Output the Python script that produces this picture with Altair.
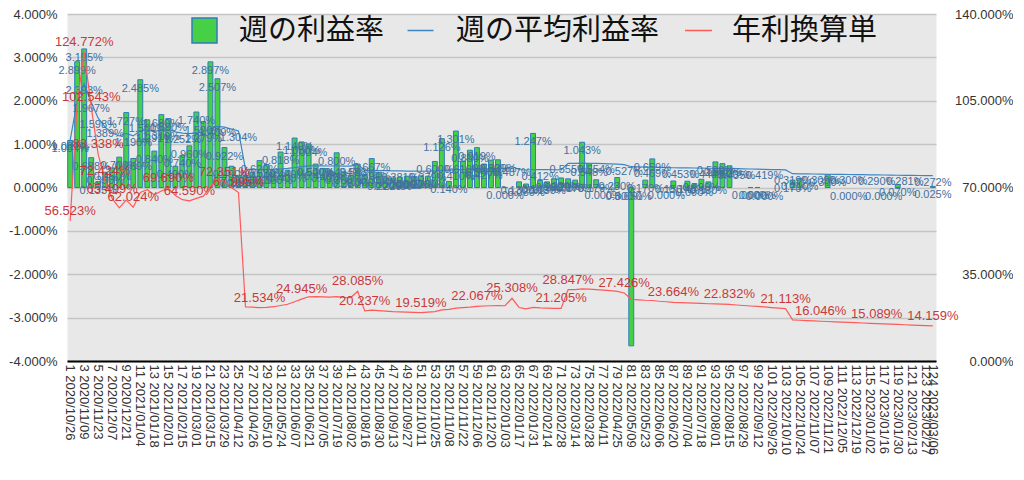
import datetime as dt
import altair as alt
import pandas as pd

# ---------------- data ----------------
weeks = list(range(1, 125))
start = dt.date(2020, 10, 26)
week_labels = [f"{w} {(start + dt.timedelta(weeks=w - 1)).strftime('%Y/%m/%d')}" for w in weeks]
shown_labels = [week_labels[i] for i in range(0, 124, 2)] + [week_labels[123]]

# weekly profit rate (%), None = no bar
weekly_rate = [
    1.084, 2.899, 3.195, 0.688, 0.135, 0.350, 0.450, 0.700, 1.727, 0.669,
    2.485, 1.560, 0.840, 1.680, 1.590, 0.490, 0.740, 0.960, 1.740, 1.520,
    2.897, 2.507, 0.922, 0.490, 0.280, 0.280, 0.350, 0.620, 0.530, 0.360,
    0.818, 0.400, 1.140, 1.050, 1.004, 0.540, 0.440, 0.400, 0.800, 0.360,
    0.280, 0.538, 0.300, 0.667, 0.350, 0.220, 0.220, 0.240, 0.260, 0.250,
    0.270, 0.260, 0.600, 1.126, 0.140, 1.301, 0.610, 0.860, 0.919, 0.540,
    0.630, 0.639, 0.0004, None, 0.130, 0.080, 1.247, 0.160, 0.130, 0.200,
    0.220, 0.200, 0.170, 1.043, 0.548, 0.179, 0.0004, None, 0.230, 0.0,
    -3.650, None, 0.170, 0.659, None, 0.0004, 0.150, None, 0.145, 0.090,
    0.190, 0.130, 0.590, 0.550, 0.500, None, None, 0.0004, 0.0004, 0.0,
    None, None, None, 0.170, 0.210, None, None, None, 0.300, None,
    None, 0.0, None, None, None, None, 0.0, None, 0.070, None,
    None, None, None, 0.025,
]

# weekly average profit rate (%)
average_rate = [
    1.087, 1.992, 2.393, 1.967, 1.598, 1.389, 1.257, 1.188, 1.248, 1.190,
    1.308, 1.329, 1.291, 1.319, 1.340, 1.284, 1.252, 1.242, 1.262, 1.279,
    1.353, 1.409, 1.391, 1.347, 1.304, 0.419, 0.417, 0.414, 0.415, 0.421,
    0.431, 0.440, 0.460, 0.480, 0.498, 0.500, 0.498, 0.496, 0.500, 0.494,
    0.492, 0.540, 0.389, 0.394, 0.390, 0.387, 0.383, 0.381, 0.379, 0.377,
    0.375, 0.379, 0.383, 0.396, 0.400, 0.410, 0.413, 0.417, 0.424, 0.427,
    0.429, 0.431, 0.429, 0.487, 0.415, 0.404, 0.415, 0.412, 0.410, 0.409,
    0.408, 0.555, 0.554, 0.560, 0.558, 0.554, 0.550, 0.546, 0.540, 0.527,
    0.479, 0.475, 0.471, 0.469, 0.463, 0.460, 0.455, 0.453, 0.451, 0.449,
    0.447, 0.444, 0.443, 0.441, 0.439, 0.435, 0.431, 0.427, 0.423, 0.419,
    0.414, 0.411, 0.406, 0.319, 0.316, 0.313, 0.311, 0.309, 0.306, 0.304,
    0.302, 0.300, 0.297, 0.295, 0.293, 0.290, 0.288, 0.286, 0.283, 0.281,
    0.279, 0.277, 0.274, 0.272,
]

# annualized simple rate (%)
annualized = [
    56.523, 103.6, 124.772, 102.543, 83.338, 72.424, 65.499, 61.8, 64.9, 62.024,
    68.0, 69.1, 67.1, 68.6, 69.690, 66.8, 65.1, 64.590, 65.6, 66.5,
    70.3, 73.2, 72.351, 70.0, 67.995, 21.8, 21.7, 21.534, 21.6, 21.9,
    22.4, 22.9, 23.9, 24.945, 25.9, 26.0, 25.9, 25.8, 26.0, 25.7,
    25.6, 28.085, 20.237, 20.5, 20.3, 20.1, 19.9, 19.8, 19.7, 19.6,
    19.519, 19.7, 19.9, 20.6, 20.8, 21.3, 21.5, 21.7, 22.067, 22.2,
    22.3, 22.4, 22.3, 25.308, 21.6, 21.0, 21.6, 21.4, 21.3, 21.25,
    21.205, 28.847, 28.8, 29.1, 29.0, 28.8, 28.6, 28.4, 28.1, 27.426,
    24.9, 24.7, 24.5, 24.4, 24.1, 23.9, 23.664, 23.55, 23.45, 23.35,
    23.25, 23.1, 23.05, 22.95, 22.832, 22.6, 22.4, 22.2, 22.0, 21.8,
    21.55, 21.35, 21.113, 16.6, 16.45, 16.3, 16.15, 16.046, 15.93, 15.81,
    15.69, 15.57, 15.45, 15.33, 15.21, 15.089, 14.97, 14.86, 14.74, 14.63,
    14.51, 14.39, 14.27, 14.159,
]

blue_label_weeks = [1, 3, 4, 5, 6, 10, 13, 14, 17, 20, 22, 25, 28, 32, 36, 40, 44, 48,
                    52, 56, 60, 64, 68, 72, 76, 80, 84, 88, 92, 96, 100, 104, 108,
                    112, 116, 120, 124]
red_label_weeks = [1, 3, 4, 5, 6, 7, 10, 15, 18, 23, 25, 28, 34, 42, 43, 51, 59, 64,
                   71, 72, 80, 87, 95, 103, 108, 116, 124]

series_names = ["週の利益率", "週の平均利益率", "年利換算単"]

# ---------------- table ----------------
def pct(v):
    return f"{v:.3f}%"

df = pd.DataFrame({
    "week": weeks,
    "label": week_labels,
    "bar": weekly_rate,
    "blue": average_rate,
    "red": annualized,
})
df["bar_ly"] = [None if v is None else max(v, 0.0) for v in weekly_rate]
df["bar_txt"] = [None if v is None else pct(v) for v in weekly_rate]
df["blue_txt"] = [pct(v) for v in average_rate]
df["red_txt"] = [pct(v) for v in annualized]
df["show_blue"] = [w in blue_label_weeks for w in weeks]
df["show_red"] = [w in red_label_weeks for w in weeks]
df["s1"] = series_names[0]
df["s2"] = series_names[1]
df["s3"] = series_names[2]

FONT = "Liberation Sans"
CJK = "Noto Sans CJK JP"
GREEN = "#46d046"
BAR_STROKE = "#2f7bbf"
BLUE = "#3d86c6"
RED = "#ff5a5a"
BLUE_TXT = "#41709e"
RED_TXT = "#c8383a"

pct_expr = "(datum.value < 0 ? '-' : '') + format(abs(datum.value), '.3f') + '%'"

X = alt.X(
    "label:N",
    sort=week_labels,
    scale=alt.Scale(paddingInner=0.3, paddingOuter=0.1),
    axis=alt.Axis(
        values=shown_labels, labelAngle=90, labelOverlap=False, labelFont=FONT,
        labelFontSize=13, labelColor="#333333", labelPadding=3, ticks=False,
        domainColor="#000000", domainWidth=2, grid=False, title=None,
    ),
)

left_scale = alt.Scale(domain=[-4, 4], nice=False)
left_axis = alt.Axis(
    values=[-4, -3, -2, -1, 0, 1, 2, 3, 4], labelExpr=pct_expr, grid=True,
    gridColor="#c4c4c4", gridWidth=1.5, domain=False, ticks=False,
    labelPadding=10, labelFont=FONT, labelFontSize=13, labelColor="#333333", title=None,
)
right_scale = alt.Scale(domain=[0, 140], nice=False)
right_axis = alt.Axis(
    orient="right", values=[0, 35, 70, 105, 140], labelExpr=pct_expr, grid=False,
    domain=False, ticks=False, labelAlign="right", labelPadding=77, labelFont=FONT,
    labelFontSize=13, labelColor="#333333", title=None,
)

base = alt.Chart(df)

bars = base.transform_filter("isValid(datum.bar) && datum.bar != 0").mark_bar(
    stroke=BAR_STROKE, strokeWidth=1
).encode(
    x=X,
    y=alt.Y("bar:Q", scale=left_scale, axis=left_axis),
    fill=alt.Fill(
        "s1:N",
        scale=alt.Scale(domain=[series_names[0]], range=[GREEN]),
        legend=alt.Legend(
            orient="none", legendX=123, legendY=2, title=None, symbolType="square",
            symbolSize=625, symbolStrokeColor=BAR_STROKE, symbolStrokeWidth=1.5,
            labelFont=CJK, labelFontSize=29, labelColor="#111111", labelOffset=20,
            padding=0, labelLimit=400,
        ),
    ),
)

blue_line = base.mark_line(strokeWidth=1.2).encode(
    x=X,
    y=alt.Y("blue:Q", scale=left_scale, axis=left_axis),
    stroke=alt.Stroke(
        "s2:N",
        scale=alt.Scale(domain=[series_names[1]], range=[BLUE]),
        legend=alt.Legend(
            orient="none", legendX=339, legendY=2, title=None, symbolType="stroke",
            symbolSize=676, symbolStrokeWidth=1.5, labelFont=CJK, labelFontSize=29,
            labelColor="#111111", labelOffset=21, padding=0, labelLimit=400,
        ),
    ),
)

bar_labels = base.transform_filter("isValid(datum.bar)").mark_text(
    font=FONT, fontSize=11, color=BLUE_TXT, dy=9
).encode(
    x=X,
    y=alt.Y("bar_ly:Q", scale=left_scale, axis=left_axis),
    text="bar_txt:N",
)

blue_labels = base.transform_filter("datum.show_blue").mark_text(
    font=FONT, fontSize=11, color=BLUE_TXT, dy=7
).encode(
    x=X,
    y=alt.Y("blue:Q", scale=left_scale, axis=left_axis),
    text="blue_txt:N",
)

red_line = base.mark_line(strokeWidth=1.2).encode(
    x=X,
    y=alt.Y("red:Q", scale=right_scale, axis=right_axis),
    color=alt.Color(
        "s3:N",
        scale=alt.Scale(domain=[series_names[2]], range=[RED]),
        legend=alt.Legend(
            orient="none", legendX=617, legendY=2, title=None, symbolType="stroke",
            symbolSize=729, symbolStrokeWidth=1.5, labelFont=CJK, labelFontSize=29,
            labelColor="#111111", labelOffset=19, padding=0, labelLimit=400,
        ),
    ),
)

red_labels = base.transform_filter("datum.show_red").mark_text(
    font=FONT, fontSize=13, color=RED_TXT, dy=-10
).encode(
    x=X,
    y=alt.Y("red:Q", scale=right_scale, axis=right_axis),
    text="red_txt:N",
)

left = alt.layer(bars, blue_line, bar_labels, blue_labels)
right = alt.layer(red_line, red_labels)

chart = alt.layer(left, right).resolve_scale(y="independent").properties(
    width=869, height=347, background="white",
    padding={"left": 0, "top": 0, "right": 0, "bottom": 0},
).configure_view(fill="#e8e8e8", stroke="transparent")

chart.save("out.html", embed_options={"renderer": "svg", "actions": False})
